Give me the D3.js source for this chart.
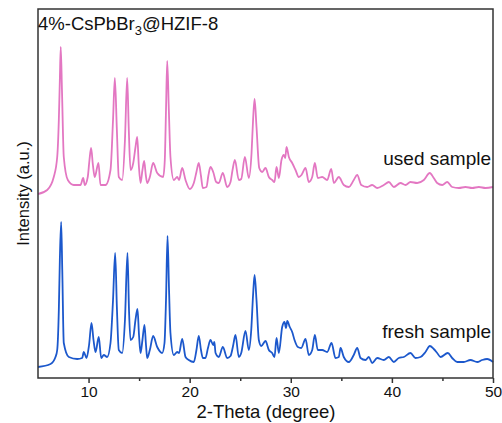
<!DOCTYPE html>
<html>
<head>
<meta charset="utf-8">
<script src="https://cdn.jsdelivr.net/npm/d3@7"></script>
<style>
  body { margin: 0; background: #fff; }
  text { font-family: "Liberation Sans", Arial, sans-serif; fill: #111; }
</style>
</head>
<body>
<div id="chart-area"></div>
<script>
// XRD patterns, 2-theta (degree) vs intensity (a.u.)
var freshTheta = [5.00, 6.24, 6.73, 6.90, 7.06, 7.16, 7.29, 7.40, 7.55, 8.05, 8.88, 9.37, 9.53, 9.80,
  10.05, 10.29, 10.49, 10.69, 11.01, 11.25, 11.51, 11.84, 12.17, 12.42, 12.63, 12.81, 12.99, 13.33,
  13.60, 13.85, 14.00, 14.15, 14.42, 14.64, 14.84, 14.99, 15.14, 15.33, 15.53, 15.68, 15.80, 16.06,
  16.39, 16.79, 17.28, 17.51, 17.66, 17.81, 17.96, 18.10, 18.43, 18.77, 18.95, 19.26, 19.59, 19.91,
  20.41, 20.67, 20.90, 21.12, 21.30, 21.56, 21.81, 22.06, 22.33, 22.44, 22.56, 22.88, 23.28, 23.71,
  24.04, 24.29, 24.53, 24.86, 25.10, 25.52, 25.85, 26.09, 26.27, 26.42, 26.61, 26.84, 27.08, 27.50,
  27.83, 28.16, 28.39, 28.59, 28.82, 29.15, 29.38, 29.53, 29.65, 29.90, 30.14, 30.37, 30.70, 31.03,
  31.46, 31.78, 32.12, 32.38, 32.67, 33.11, 33.60, 34.03, 34.42, 34.75, 34.92, 35.24, 35.74, 36.23,
  36.57, 36.90, 37.39, 37.72, 38.05, 38.55, 39.20, 39.70, 40.19, 40.68, 41.18, 41.84, 42.33, 42.83,
  43.32, 43.75, 44.14, 44.48, 44.81, 45.53, 45.96, 46.46, 47.11, 47.77, 48.44, 48.93, 49.42, 50.00];
var freshIntensity = [11, 14, 21, 28, 68, 118, 156, 108, 35, 21, 19, 20, 26, 20,
  33, 55, 38, 26, 41, 20, 23, 21, 35, 78, 125, 68, 28, 25,
  58, 125, 68, 38, 41, 58, 69, 43, 25, 38, 53, 33, 20, 28,
  42, 31, 25, 35, 78, 142, 88, 45, 23, 26, 25, 39, 21, 18,
  16, 28, 42, 28, 20, 20, 30, 38, 33, 36, 25, 21, 31, 20,
  22, 32, 43, 21, 25, 47, 28, 48, 83, 103, 78, 38, 32, 37,
  28, 25, 21, 40, 25, 51, 56, 50, 57, 51, 46, 38, 31, 30,
  39, 23, 28, 43, 28, 28, 26, 35, 20, 21, 30, 21, 16, 23,
  30, 20, 18, 21, 15, 20, 18, 21, 16, 20, 21, 25, 20, 21,
  26, 32, 29, 25, 21, 25, 20, 16, 16, 18, 16, 18, 19, 16];

var usedTheta = [5.00, 5.91, 6.56, 6.90, 7.06, 7.16, 7.25, 7.37, 7.55, 7.95, 8.54, 9.20, 9.47, 9.63,
  9.92, 10.09, 10.25, 10.43, 10.61, 10.98, 11.18, 11.68, 12.17, 12.42, 12.60, 12.80, 12.99, 13.33,
  13.60, 13.82, 13.98, 14.15, 14.42, 14.63, 14.81, 14.97, 15.14, 15.33, 15.50, 15.66, 15.80, 16.06,
  16.39, 16.79, 17.38, 17.54, 17.66, 17.78, 17.94, 18.10, 18.43, 18.77, 18.95, 19.26, 19.59, 20.01,
  20.41, 20.67, 20.90, 21.12, 21.30, 21.66, 21.86, 22.06, 22.33, 22.62, 22.88, 23.28, 23.71, 24.04,
  24.24, 24.47, 24.86, 25.10, 25.46, 25.85, 26.12, 26.27, 26.42, 26.61, 26.88, 27.17, 27.50, 27.83,
  28.16, 28.39, 28.59, 28.82, 29.08, 29.31, 29.45, 29.58, 29.81, 30.14, 30.47, 30.79, 31.06, 31.46,
  31.78, 32.12, 32.38, 32.67, 33.11, 33.60, 34.00, 34.26, 34.75, 35.24, 35.74, 36.23, 36.57, 36.97,
  37.56, 38.05, 38.55, 39.20, 39.70, 40.19, 40.85, 41.35, 41.84, 42.50, 43.16, 43.75, 44.14, 44.48,
  44.98, 45.47, 45.96, 46.62, 47.28, 47.94, 48.60, 49.26, 50.00];
var usedIntensity = [184, 188, 201, 221, 258, 298, 331, 288, 221, 198, 193, 193, 200, 193,
  201, 218, 230, 213, 201, 215, 193, 193, 208, 258, 300, 248, 201, 198,
  238, 300, 248, 208, 215, 230, 241, 213, 195, 208, 217, 203, 195, 201,
  215, 205, 201, 218, 268, 317, 268, 221, 198, 201, 198, 210, 198, 189,
  195, 206, 215, 202, 190, 191, 203, 211, 206, 196, 195, 205, 191, 196,
  208, 218, 198, 199, 221, 200, 225, 258, 279, 251, 210, 206, 210, 201,
  198, 196, 211, 200, 218, 223, 220, 231, 221, 215, 208, 201, 203, 210,
  196, 201, 215, 200, 201, 198, 209, 195, 201, 193, 191, 198, 203, 193,
  191, 193, 190, 193, 196, 191, 195, 193, 196, 195, 198, 205, 200, 195,
  193, 196, 191, 190, 191, 190, 191, 190, 191];

var xTicks = [10, 20, 30, 40, 50];
var xMinorTicks = [15, 25, 35, 45];
var seriesNames = ["fresh sample", "used sample"];
var seriesColors = ["#1c58cc", "#e377c2"];

var margin = { top: 9, right: 9, bottom: 45, left: 38 };
var width = 502 - margin.left - margin.right;
var height = 423 - margin.top - margin.bottom;

var svg = d3.select("#chart-area")
  .append("svg")
  .attr("width", 502)
  .attr("height", 423);

var g = svg.append("g")
  .attr("transform", "translate(" + margin.left + "," + margin.top + ")");

var x = d3.scaleLinear().domain([5, 50]).range([0, width]);
var y = d3.scaleLinear().domain([0, 369]).range([height, 0]);

var line = d3.line()
  .curve(d3.curveMonotoneX)
  .x(function (d) { return x(d[0]); })
  .y(function (d) { return y(d[1]); });

var series = [
  d3.zip(freshTheta, freshIntensity),
  d3.zip(usedTheta, usedIntensity)
];

g.selectAll(".trace")
  .data(series)
  .enter()
  .append("path")
  .attr("class", "trace")
  .attr("d", line)
  .attr("fill", "none")
  .attr("stroke", function (d, i) { return seriesColors[i]; })
  .attr("stroke-width", 1.8)
  .attr("stroke-linejoin", "round");

// frame
g.append("rect")
  .attr("width", width)
  .attr("height", height)
  .attr("fill", "none")
  .attr("stroke", "#333")
  .attr("stroke-width", 1.5);

// x axis
var xAxis = d3.axisBottom(x)
  .tickValues(xTicks)
  .tickSize(5)
  .tickPadding(3);
var xAxisGroup = g.append("g")
  .attr("transform", "translate(0," + height + ")")
  .call(xAxis);
xAxisGroup.select(".domain").remove();
xAxisGroup.selectAll("line").attr("stroke", "#333").attr("stroke-width", 1.5);
xAxisGroup.selectAll("text")
  .style("font-family", "Liberation Sans, Arial, sans-serif")
  .style("font-size", "15.5px")
  .attr("fill", "#111");

var minorAxis = d3.axisBottom(x)
  .tickValues(xMinorTicks)
  .tickSize(3)
  .tickFormat("");
var minorGroup = g.append("g")
  .attr("transform", "translate(0," + height + ")")
  .call(minorAxis);
minorGroup.select(".domain").remove();
minorGroup.selectAll("line").attr("stroke", "#333").attr("stroke-width", 1.5);

// axis titles
svg.append("text")
  .attr("x", 266)
  .attr("y", 418)
  .attr("text-anchor", "middle")
  .style("font-size", "18.5px")
  .text("2-Theta (degree)");

svg.append("text")
  .attr("transform", "translate(29," + (margin.top + height / 2) + ") rotate(-90)")
  .attr("text-anchor", "middle")
  .style("font-size", "16.5px")
  .text("Intensity (a.u.)");

// sample title with subscript
var title = svg.append("text")
  .attr("x", 38)
  .attr("y", 30)
  .style("font-size", "18.5px");
title.append("tspan").text("4%-CsPbBr");
title.append("tspan").attr("dy", 5).style("font-size", "13px").text("3");
title.append("tspan").attr("dy", -5).text("@HZIF-8");

// series labels
svg.selectAll(".series-label")
  .data(seriesNames)
  .enter()
  .append("text")
  .attr("class", "series-label")
  .attr("x", 491)
  .attr("y", function (d, i) { return i === 0 ? 338 : 165; })
  .attr("text-anchor", "end")
  .style("font-size", "19px")
  .text(function (d) { return d; });
</script>
</body>
</html>
